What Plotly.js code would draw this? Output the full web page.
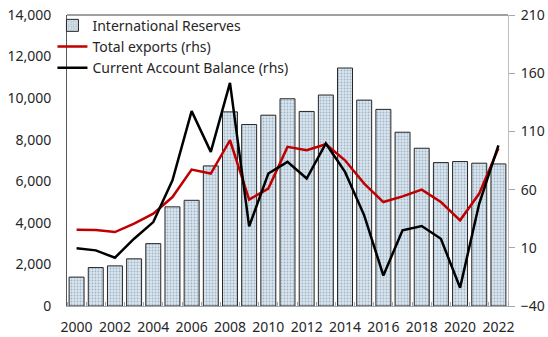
<!DOCTYPE html>
<html>
<head>
<meta charset="utf-8">
<script src="https://cdn.plot.ly/plotly-3.0.1.min.js"></script>
<style>html,body{margin:0;padding:0;background:#fff;}#chart{width:548px;height:337px;}</style>
</head>
<body>
<div id="chart"></div>
<script>
var years = [2000,2001,2002,2003,2004,2005,2006,2007,2008,2009,2010,2011,2012,2013,2014,2015,2016,2017,2018,2019,2020,2021,2022];
var reserves = [1390,1850,1930,2270,3000,4770,5085,6740,9340,8730,9180,9970,9360,10150,11450,9905,9460,8360,7590,6900,6950,6870,6835];
var totalExports = [25.6,25.3,23.5,30.7,39.3,53.6,77.2,73.8,102.4,51.4,60.9,96.7,93.8,99,85.2,65.2,49.3,54.2,60,49.3,33.6,56.6,95.5];
var currentAccount = [9.7,7.8,1.5,17.8,32.1,68,127.4,92.4,151.7,28.4,73.8,83.8,69.5,99.6,75.2,37.9,-13.8,25,28.7,17.8,-24.3,48,98];
var xTickLabels = ['2000','2002','2004','2006','2008','2010','2012','2014','2016','2018','2020','2022'];

var FONT = "'Noto Sans', 'Open Sans', sans-serif";

var traces = [
  {
    type: 'bar', name: 'International Reserves', x: years, y: reserves,
    marker: {
      color: '#d5e3ee',
      line: {color: '#262626', width: 1},
      pattern: {shape: '.', bgcolor: '#d9e6f0', fgcolor: '#a3b5c4', size: 3, solidity: 0.3}
    },
    yaxis: 'y'
  },
  {
    type: 'scatter', mode: 'lines', name: 'Total exports (rhs)', x: years, y: totalExports,
    line: {color: '#c00000', width: 2.5}, yaxis: 'y2'
  },
  {
    type: 'scatter', mode: 'lines', name: 'Current Account Balance (rhs)', x: years, y: currentAccount,
    line: {color: '#000000', width: 2.5}, yaxis: 'y2'
  }
];

var layout = {
  width: 548, height: 337,
  margin: {l: 67, r: 40, t: 15, b: 31, autoexpand: false},
  paper_bgcolor: '#ffffff', plot_bgcolor: '#ffffff',
  font: {family: FONT, size: 14, color: '#262626'},
  bargap: 0.22,
  showlegend: true,
  legend: {x: -0.033, y: 1.018, xanchor: 'left', yanchor: 'top', bgcolor: 'rgba(0,0,0,0)',
           font: {family: FONT, size: 14, color: '#262626'}, tracegroupgap: 0, itemwidth: 30,
           traceorder: 'normal'},
  xaxis: {
    type: 'linear', range: [1999.5, 2022.5],
    tickmode: 'array', tickvals: xTickLabels.map(Number), ticktext: xTickLabels,
    ticks: '', showgrid: false, zeroline: false,
    showline: true, linecolor: '#a6a6a6', linewidth: 1,
    ticklabelstandoff: 8,
    minor: {tick0: 1999.5, dtick: 1, ticks: 'inside', ticklen: 4, tickcolor: '#a6a6a6', showgrid: false},
    tickfont: {family: FONT, size: 14, color: '#262626'}
  },
  yaxis: {
    range: [0, 14000], dtick: 2000, tick0: 0, tickformat: ',d',
    showgrid: false, zeroline: false, ticks: '',
    showline: true, linecolor: '#595959', linewidth: 1,
    ticklabelstandoff: 12,
    tickfont: {family: FONT, size: 14, color: '#262626'}
  },
  yaxis2: {
    overlaying: 'y', side: 'right',
    range: [-40, 210], dtick: 50, tick0: -40,
    showgrid: false, zeroline: false,
    ticks: 'outside', ticklen: 6, tickcolor: '#a6a6a6',
    showline: true, linecolor: '#bfbfbf', linewidth: 1,
    ticklabelstandoff: 3,
    tickfont: {family: FONT, size: 14, color: '#262626'}
  },
  shapes: [
    {type: 'line', xref: 'paper', yref: 'paper', x0: 0, x1: 1, y0: 1, y1: 1,
     line: {color: '#404040', width: 1}}
  ]
};

Plotly.newPlot('chart', traces, layout, {displayModeBar: false, staticPlot: true});
</script>
</body>
</html>
